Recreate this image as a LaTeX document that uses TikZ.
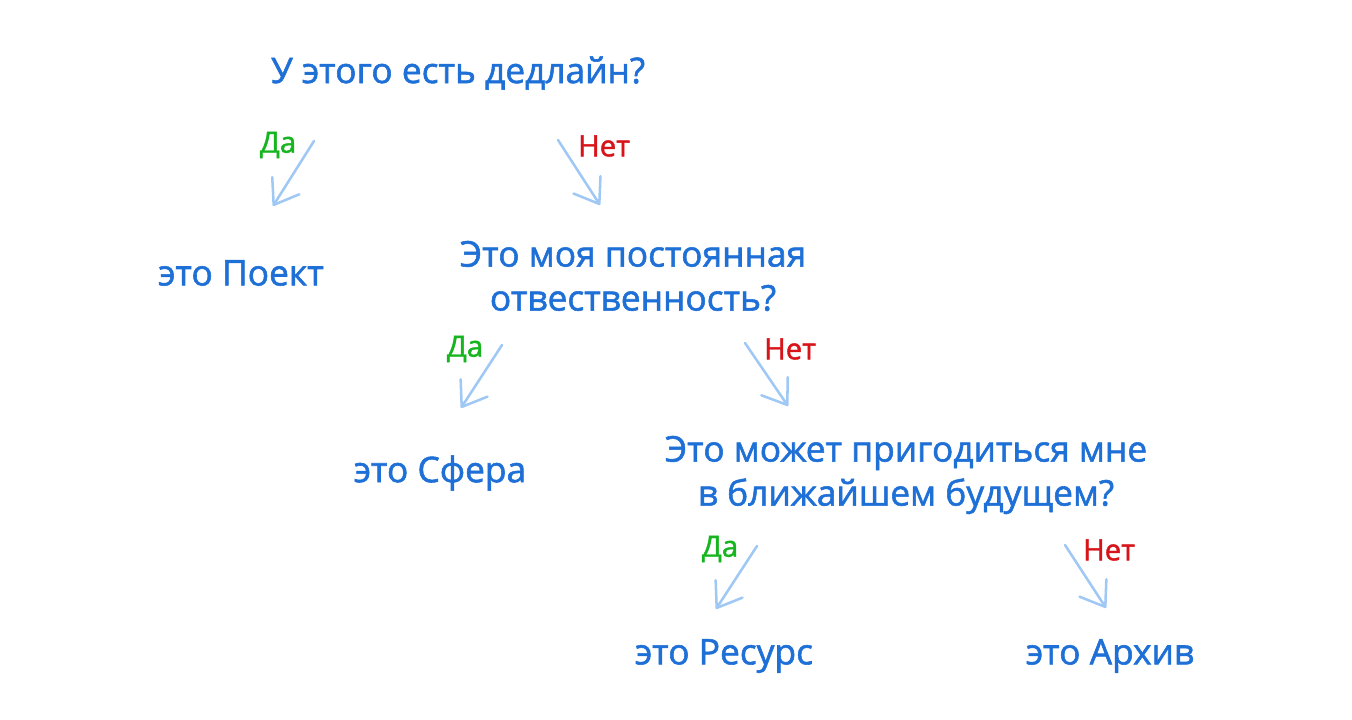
\documentclass[tikz,border=0pt]{standalone}
\usepackage{fontspec}
\setmainfont{Open Sans}
\newfontfamily\hand{Open Sans}[FakeBold=1.6]
\newfontfamily\handlbl{Open Sans}[FakeBold=1.4]
\usetikzlibrary{arrows.meta}
\definecolor{txtblue}{RGB}{30,112,214}
\definecolor{yesgreen}{RGB}{22,180,30}
\definecolor{nored}{RGB}{215,20,25}
\definecolor{arrblue}{RGB}{160,200,245}
\tikzset{
  q/.style={text=txtblue, font=\hand\fontsize{26.5}{33}\selectfont, align=center, inner sep=0pt},
  yes/.style={text=yesgreen, font=\handlbl\fontsize{22}{24}\selectfont, inner sep=0pt},
  no/.style={text=nored, font=\handlbl\fontsize{22}{24}\selectfont, inner sep=0pt},
  conn/.style={draw=arrblue, line width=1.9pt, line cap=round,
    -{Straight Barb[length=17pt,width=24pt,line width=1.9pt,round]}}
}
\begin{document}
\begin{tikzpicture}[x=0.75pt,y=-0.75pt]
\useasboundingbox (0,0) rectangle (1352,720);
% questions and answers
\node[q] (q1) at (458,73) {У этого есть дедлайн?};
\node[q] (a1) at (241,273) {это Поект};
\node[q] (q2) at (633,276) {Это моя постоянная\\отвественность?};
\node[q] (a2) at (440,473) {это Сфера};
\node[q] (q3) at (906,475) {Это может пригодиться мне\\в ближайшем будущем?};
\node[q] (a3) at (724,656) {это Ресурс};
\node[q] (a4) at (1110,656) {это Архив};
% arrow coordinates
\coordinate (s1) at (314,141); \coordinate (e1) at (273,206);
\coordinate (s2) at (558,140); \coordinate (e2) at (600,205);
\coordinate (s3) at (502,345); \coordinate (e3) at (461,408);
\coordinate (s4) at (745,343); \coordinate (e4) at (788,406);
\coordinate (s5) at (757,546); \coordinate (e5) at (716,609);
\coordinate (s6) at (1065,545); \coordinate (e6) at (1106,608);
\draw[conn] (s1) -- (e1);
\draw[conn] (s2) -- (e2);
\draw[conn] (s3) -- (e3);
\draw[conn] (s4) -- (e4);
\draw[conn] (s5) -- (e5);
\draw[conn] (s6) -- (e6);
% labels
\node[yes] (y1) at (278,145) {Да};
\node[no] (n1) at (604,146) {Нет};
\node[yes] (y2) at (465,349) {Да};
\node[no] (n2) at (790,349) {Нет};
\node[yes] (y3) at (720,549) {Да};
\node[no] (n3) at (1109,550) {Нет};
\end{tikzpicture}
\end{document}
